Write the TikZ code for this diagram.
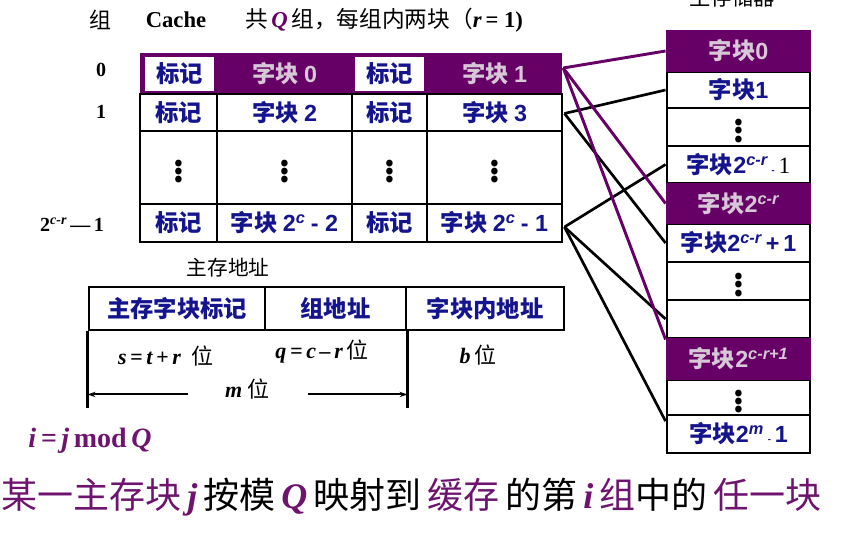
\documentclass[tikz,border=0pt]{standalone}
\usepackage{fontspec}
\setmainfont{Liberation Serif}
\newfontfamily\cjk{Noto Sans CJK SC}
\newfontfamily\lsans{Liberation Sans}
\usetikzlibrary{arrows.meta,calc}
\definecolor{pur}{RGB}{102,0,102}
\definecolor{navy}{RGB}{20,20,140}
\definecolor{lite}{RGB}{215,200,215}
\definecolor{ptext}{RGB}{110,20,110}
\newcommand\ar[1]{{\lsans #1}}
\newcommand\supx[1]{\textsuperscript{\lsans\bfseries\itshape #1}}
\newcommand\vd{{\fontsize{23}{23}\selectfont$\vdots$}}
\begin{document}
\begin{tikzpicture}[x=0.75pt,y=-0.75pt,
  cellfont/.style={font=\cjk\bfseries\fontsize{17.5}{20}\selectfont},
  cell/.style={cellfont, draw=black, line width=2.2pt, fill=white, inner sep=0pt, text=navy},
  pcell/.style={cellfont, fill=pur, inner sep=0pt, text=lite},
  wbox/.style={cellfont, fill=white, inner sep=0pt, text=navy},
  lbl/.style={font=\bfseries\fontsize{15}{18}\selectfont, inner sep=0pt},
  plink/.style={draw=pur, line width=2.2pt},
  blink/.style={draw=black, line width=2pt},
  note/.style={font=\fontsize{16.5}{19}\selectfont, inner sep=0pt}
]
\useasboundingbox (0,0) rectangle (853,534);
\clip (0,0) rectangle (853,534);

% ---------- header ----------
\node[font=\cjk\fontsize{16.5}{19}\selectfont, inner sep=0pt] (hz) at (100,20) {组};
\node[font=\bfseries\fontsize{17}{20}\selectfont, inner sep=0pt] (hc) at (176,20) {Cache};
\node[font=\cjk\fontsize{17}{20}\selectfont, inner sep=0pt] (hq) at (384,20)
  {共\,{\rmfamily\itshape\bfseries\color{pur}Q}\,组，每组内两块（{\rmfamily\bfseries\itshape r}\,{\rmfamily\bfseries = 1)}};
\node[font=\cjk\fontsize{16}{19}\selectfont, inner sep=0pt] (hm) at (732,-3) {主存储器};

% ---------- row labels ----------
\node[lbl] (g0) at (101,70) {0};
\node[lbl] (g1) at (101,112) {1};
\node[lbl] (g3) at (72,225) {2\textsuperscript{\itshape c-r}\,---\,1};

% ---------- cache row 0 (highlighted) ----------
\node[pcell, minimum width=316.5pt, minimum height=31.5pt] (r0) at (351,74) {};
\node[wbox, minimum width=51.75pt, minimum height=25.5pt] (t00) at (179.5,74) {标记};
\node[cellfont, text=lite, inner sep=0pt] (b00) at (284.5,74) {字块 \ar{0}};
\node[wbox, minimum width=51.75pt, minimum height=25.5pt] (t01) at (389.5,74) {标记};
\node[cellfont, text=lite, inner sep=0pt] (b01) at (494.5,74) {字块 \ar{1}};

% ---------- cache row 1 ----------
\node[cell, minimum width=57.75pt, minimum height=27.75pt] (t10) at (178.5,112.5) {标记};
\node[cell, minimum width=101.25pt, minimum height=27.75pt] (b10) at (284.5,112.5) {字块 \ar{2}};
\node[cell, minimum width=56.25pt, minimum height=27.75pt] (t11) at (389.5,112.5) {标记};
\node[cell, minimum width=101.25pt, minimum height=27.75pt] (b11) at (494.5,112.5) {字块 \ar{3}};

% ---------- cache row dots ----------
\node[cell, text=black, minimum width=57.75pt, minimum height=54.75pt] (t20) at (178.5,167.5) {\vd};
\node[cell, text=black, minimum width=101.25pt, minimum height=54.75pt] (b20) at (284.5,167.5) {\vd};
\node[cell, text=black, minimum width=56.25pt, minimum height=54.75pt] (t21) at (389.5,167.5) {\vd};
\node[cell, text=black, minimum width=101.25pt, minimum height=54.75pt] (b21) at (494.5,167.5) {\vd};

% ---------- cache last row ----------
\node[cell, minimum width=57.75pt, minimum height=28.5pt] (t30) at (178.5,223) {标记};
\node[cell, minimum width=101.25pt, minimum height=28.5pt] (b30) at (284.5,223) {字块 \ar{2}\supx{c} \ar{- 2}};
\node[cell, minimum width=56.25pt, minimum height=28.5pt] (t31) at (389.5,223) {标记};
\node[cell, minimum width=101.25pt, minimum height=28.5pt] (b31) at (494.5,223) {字块 \ar{2}\supx{c} \ar{- 1}};

% ---------- main memory column ----------
\node[cell, minimum width=107.25pt, minimum height=27pt] (m1) at (738.5,90) {字块\ar{1}};
\node[cell, text=black, minimum width=107.25pt, minimum height=28.5pt] (m2) at (738.5,127) {\vd};
\node[cell, minimum width=107.25pt, minimum height=27.75pt] (m3) at (738.5,164.5)
  {字块\ar{2}\supx{c-r}\,{\lsans\scriptsize -}\,{\rmfamily\mdseries\color{black}1}};
\node[cell, minimum width=107.25pt, minimum height=28.5pt] (m5) at (738.5,243) {字块\ar{2}\supx{c-r}\,\ar{+\,1}};
\node[cell, text=black, minimum width=107.25pt, minimum height=28.5pt] (m6) at (738.5,281) {\vd};
\node[cell, minimum width=107.25pt, minimum height=28.5pt] (m7) at (738.5,319) {};
\node[cell, text=black, minimum width=107.25pt, minimum height=26.25pt] (m9) at (738.5,397.5) {\vd};
\node[cell, minimum width=107.25pt, minimum height=28.5pt] (m10) at (738.5,434) {字块\ar{2}\supx{m}\,{\lsans\scriptsize -}\,\ar{1}};
\node[pcell, minimum width=109pt, minimum height=31.5pt] (m0) at (738.5,51) {字块\ar{0}};
\node[pcell, minimum width=109pt, minimum height=30.75pt] (m4) at (738.5,203.5) {字块\ar{2}\supx{c-r}};
\node[pcell, minimum width=109pt, minimum height=31.5pt] (m8) at (738.5,359) {字块\ar{2}\supx{c-r+1}};

% ---------- connectors ----------
\coordinate (c0) at ($(r0.east)+(1,-6)$);
\coordinate (c1) at ($(b11.east)+(1,1)$);
\coordinate (c3) at ($(b31.east)+(1,4)$);
\draw[blink] (c1) -- (m1.west);
\draw[blink] (c1) -- (m5.west);
\draw[blink] (c3) -- (m3.west);
\draw[blink] (c3) -- (m7.west);
\draw[blink] (c3) -- (m10.170);
\draw[plink] (c0) -- (m0.west);
\draw[plink] (c0) -- (m4.west);
\draw[plink] (c0) -- (m8.165);

% ---------- main memory address ----------
\node[font=\cjk\fontsize{15.5}{18}\selectfont, inner sep=0pt] (ma) at (228,268) {主存地址};
\node[cell, minimum width=132pt, minimum height=32.25pt] (a1) at (177,308.5) {主存字块标记};
\node[cell, minimum width=105.75pt, minimum height=32.25pt] (a2) at (335.5,308.5) {组地址};
\node[cell, minimum width=118.5pt, minimum height=32.25pt] (a3) at (485,308.5) {字块内地址};
\coordinate (vl) at ($(a1.south west)+(0,77)$);
\coordinate (vr) at ($(a2.south east)+(0,77)$);
\draw[line width=1.6pt] (a1.south west) -- (vl);
\draw[line width=1.6pt] (a2.south east) -- (vr);
\coordinate (al) at ($(a1.south west)+(0,63)$);
\coordinate (arr) at ($(a2.south east)+(0,63)$);
\draw[line width=1.5pt, {Stealth[length=6pt,width=4pt]}-{Stealth[length=6pt,width=4pt]}] (al) -- node[fill=white, inner sep=0pt, minimum width=90pt, minimum height=14pt, yshift=4pt, note] (mw) {\bfseries\itshape m\ {\cjk\mdseries 位}} (arr);
\node[note] (s1) at (166,356) {\bfseries\itshape s\,=\,t\,+\,r\ \ {\cjk\mdseries 位}};
\node[note] (s2) at (322,352) {\bfseries\itshape q\,=\,c\,--\,r\,{\cjk\mdseries 位}};
\node[note] (s3) at (478,355) {\bfseries\itshape b\,{\cjk\mdseries 位}};

% ---------- formula and caption ----------
\node[font=\bfseries\fontsize{21}{24}\selectfont, text=ptext, inner sep=0pt] (fm) at (90,441)
  {\itshape i\,=\,j\,\upshape mod\,\itshape Q};
\node[font=\cjk\fontsize{27}{31}\selectfont, inner sep=0pt, anchor=west] (cap) at (1,497)
  {{\color{ptext}某一主存块\,{\rmfamily\bfseries\itshape j}}\,按模\,{\color{ptext}\rmfamily\bfseries\itshape Q}\,映射到\,{\color{ptext}缓存}\,的第\,{\color{ptext}{\rmfamily\bfseries\itshape i}\,组}中的\,{\color{ptext}任一块}};
\end{tikzpicture}
\end{document}
